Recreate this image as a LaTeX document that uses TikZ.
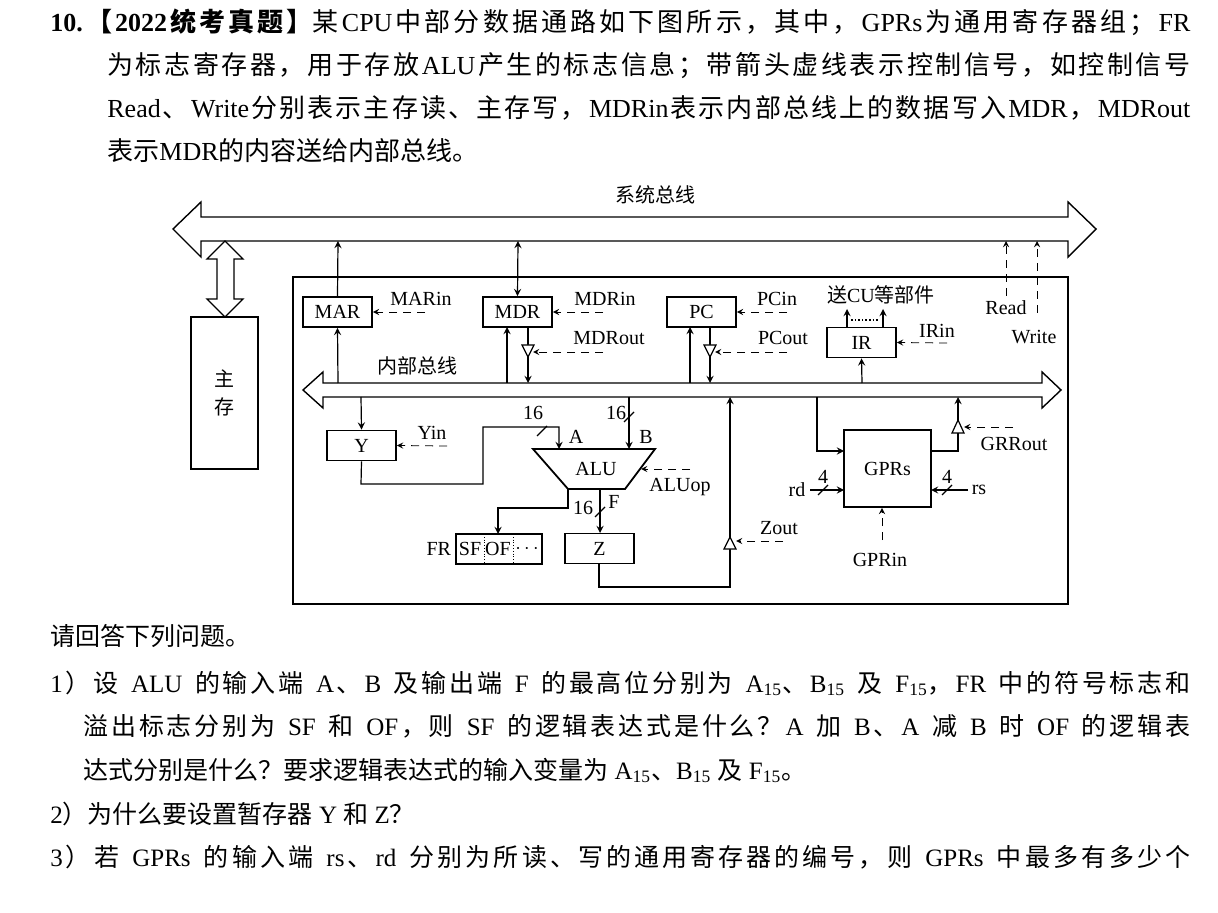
\documentclass[tikz,border=0pt]{standalone}
\usepackage{fontspec}
\setmainfont{Liberation Serif}
\newfontfamily\cjk{Noto Sans CJK SC}
\newcommand\lat{\rmfamily}
\usetikzlibrary{positioning}
% CJK characters switch to the CJK font on their own
\newXeTeXintercharclass\cjkcls
\newcount\cc
\cc="3000 \loop \XeTeXcharclass\cc=\cjkcls \ifnum\cc<"303F \advance\cc 1 \repeat
\cc="4E00 \loop \XeTeXcharclass\cc=\cjkcls \ifnum\cc<"9FFF \advance\cc 1 \repeat
\cc="FF00 \loop \XeTeXcharclass\cc=\cjkcls \ifnum\cc<"FFEF \advance\cc 1 \repeat
\newcommand\cjkglue{\hskip0pt plus 2pt\relax}
\XeTeXinterchartoks 0 \cjkcls = {\cjkglue\cjk}
\XeTeXinterchartoks 4095 \cjkcls = {\cjk}
\XeTeXinterchartoks \cjkcls 0 = {\lat\cjkglue}
\XeTeXinterchartoks \cjkcls 4095 = {\lat}
\XeTeXinterchartoks \cjkcls \cjkcls = {\cjkglue}
\XeTeXinterchartokenstate=1
\newcommand\jline[2]{\hbox to #1{\spaceskip=0.3em plus 0.3em\relax #2}}

\begin{document}
\begin{tikzpicture}[
    x=0.5pt, y=-0.5pt,
    >=stealth,
    reg/.style={
        draw,
        line width=0.9pt,
        minimum width=34.5pt,
        minimum height=15pt,
        inner sep=0pt,
        font=\fontsize{10pt}{11pt}\selectfont
    },
    lbl/.style={
        inner sep=0pt,
        font=\fontsize{10pt}{11pt}\selectfont
    },
    txt/.style={
        anchor=base west,
        inner sep=0pt,
        font=\fontsize{12.5pt}{15pt}\selectfont
    },
    ctrl/.style={
        ->,
        dash pattern=on 4pt off 3pt
    },
    wire/.style={
        line width=0.6pt
    },
    bus/.style={
        draw,
        line width=0.7pt,
        fill=white
    }
]
    \useasboundingbox (0,0) rectangle (1218,913);

    % Question text
    \node[txt, font=\fontsize{13pt}{15pt}\selectfont] (l1) at (50,32) {\jline{570pt}{\textbf{10.【2022统考真题】}某CPU中部分数据通路如下图所示，其中，GPRs为通用寄存器组；FR}};
    \node[txt, font=\fontsize{13pt}{15pt}\selectfont] (l2) at (107,75) {\jline{541.5pt}{为标志寄存器，用于存放ALU产生的标志信息；带箭头虚线表示控制信号，如控制信号}};
    \node[txt, font=\fontsize{13pt}{15pt}\selectfont] (l3) at (107,118) {\jline{541.5pt}{Read、Write分别表示主存读、主存写，MDRin表示内部总线上的数据写入MDR，MDRout}};
    \node[txt, font=\fontsize{13pt}{15pt}\selectfont] (l4) at (107,161) {表示MDR的内容送给内部总线。};

    % System bus
    \path[bus] (201,217) -- (1068,217) -- (1068,202) -- (1096,229) -- (1068,257)
        -- (1068,241) -- (201,241) -- (201,257) -- (173,229) -- (201,202) -- cycle;
    \node[lbl] (sysbus) at (655,195) {系统总线};

    % Main memory
    \node[reg, minimum width=33.5pt, minimum height=76pt, align=center] (mem) at (224.5,393) {主\\[3pt]存};
    \path[bus] (225,241) -- (243,259) -- (234,259) -- (234,299) -- (243,299) -- (225,317)
        -- (207,299) -- (217,299) -- (217,259) -- (207,259) -- cycle;

    % CPU frame
    \draw[line width=0.7pt] (293,277) rectangle (1068,604);

    % Internal bus
    \path[bus] (323,383) -- (1042,383) -- (1042,372) -- (1061,390) -- (1042,408)
        -- (1042,397) -- (323,397) -- (323,408) -- (303,390) -- (323,372) -- cycle;
    \node[lbl] (inbus) at (417,366) {内部总线};

    % Registers
    \node[reg] (mar) at (337.5,312) {MAR};
    \node[reg] (mdr) at (517.5,312) {MDR};
    \node[reg] (pc) at (701.5,312) {PC};
    \node[reg] (ir) at (861.5,342.5) {IR};
    \node[reg] (y) at (361.5,445.5) {Y};
    \node[reg] (z) at (599.5,548.5) {Z};
    \node[reg, minimum width=43.5pt, minimum height=38.5pt] (gprs) at (887.5,468.5) {GPRs};
    \node[draw, line width=0.6pt, minimum width=43pt, minimum height=15pt, inner sep=0pt] (fr) at (499,549) {};
    \draw[densely dotted] (484,534) -- (484,564) (513,534) -- (513,564);
    \node[lbl] at (470,549) {SF};
    \node[lbl] at (498,549) {OF};
    \node[lbl] at (527,549) {$\cdots$};
    \node[lbl, left=2pt of fr] (frl) {FR};

    % Connections to system bus
    \draw[wire, ->] (mar.north) -- (338,241);
    \draw[wire, <->] (mdr.north) -- (518,241);
    \draw[wire, ->] (338,383) -- (mar.south);
    \draw[wire, ->] (507,383) -- (507,327);

    % MDRout buffer
    \draw[wire] (528,327) -- (528,345);
    \draw[wire, fill=white] (522,345) -- (534,345) -- (528,357) -- cycle;
    \draw[wire, ->] (528,357) -- (528,383);

    % PC
    \draw[wire, ->] (690,383) -- (690,327);
    \draw[wire] (710,327) -- (710,345);
    \draw[wire, fill=white] (704,345) -- (716,345) -- (710,357) -- cycle;
    \draw[wire, ->] (710,357) -- (710,383);

    % IR
    \draw[wire, ->] (862,383) -- (ir.south);
    \draw[wire, ->] (847,327) -- (847,309);
    \draw[wire, ->] (883,327) -- (883,309);
    \draw[densely dotted, line width=0.8pt] (851,320) -- (879,320);
    \node[lbl] (tocu) at (881,295) {送CU等部件};

    % Control signals, upper part
    \node[lbl] (marin) at (421,299) {MARin};
    \draw[ctrl] (425,312) -- (mar.east);
    \node[lbl] (mdrin) at (605,299) {MDRin};
    \draw[ctrl] (603,312) -- (mdr.east);
    \node[lbl] (mdrout) at (609,338) {MDRout};
    \draw[ctrl] (603,352) -- (533,352);
    \node[lbl] (pcin) at (777,299) {PCin};
    \draw[ctrl] (787,312) -- (pc.east);
    \node[lbl] (pcout) at (783,338) {PCout};
    \draw[ctrl] (787,352) -- (715,352);
    \node[lbl] (irin) at (937,331) {IRin};
    \draw[ctrl] (947,343) -- (ir.east);
    \node[lbl] (read) at (1006,308) {Read};
    \draw[ctrl] (1006,296) -- (1006,241);
    \node[lbl] (write) at (1034,337) {Write};
    \draw[ctrl] (1037,313) -- (1037,241);

    % Y and ALU
    \draw[wire, ->] (361,397) -- (y.north);
    \node[lbl] (yin) at (432,433) {Yin};
    \draw[ctrl] (447,446) -- (y.east);
    \draw[line width=0.9pt] (533,449) -- (655,449) -- (625,489) -- (568,489) -- cycle;
    \node[lbl] (alu) at (596,469) {ALU};
    \draw[wire, ->] (y.south) -- (361,484) -- (483,484) -- (483,427) -- (559,427) -- (559,449);
    \draw[wire] (537,436) -- (547,426);
    \node[lbl] at (533,413) {16};
    \node[lbl] at (576,437) {A};
    \draw[wire, ->] (629,397) -- (629,449);
    \draw[wire] (624,422) -- (634,412);
    \node[lbl] at (616,413) {16};
    \node[lbl] at (646,437) {B};
    \node[lbl] (aluop) at (680,487) {ALUop};
    \draw[ctrl] (690,469) -- (641,469);

    % ALU outputs
    \draw[wire, ->] (568,489) -- (568,508) -- (498,508) -- (498,534);
    \draw[wire, ->] (600,489) -- (600,533);
    \draw[wire] (595,517) -- (605,507);
    \node[lbl] at (583,508) {16};
    \node[lbl] at (614,502) {F};

    % Z output buffer
    \draw[wire] (599,564) -- (599,587) -- (730,587) -- (730,549);
    \draw[wire, fill=white] (724,549) -- (736,549) -- (730,537) -- cycle;
    \draw[wire, ->] (730,537) -- (730,397);
    \node[lbl] (zout) at (779,528) {Zout};
    \draw[ctrl] (783,541) -- (736,541);

    % GPRs
    \draw[wire, ->] (817,397) -- (817,451) -- (844,451);
    \draw[wire] (931,451) -- (958,451) -- (958,433);
    \draw[wire, fill=white] (952,433) -- (964,433) -- (958,420) -- cycle;
    \draw[wire, ->] (958,420) -- (958,397);
    \node[lbl] (grrout) at (1014,444) {GRRout};
    \draw[ctrl] (1013,427) -- (964,427);
    \node[lbl] (rd) at (797,490) {rd};
    \draw[wire, ->] (810,490) -- (844,490);
    \draw[wire] (818,495) -- (828,485);
    \node[lbl] at (823,477) {4};
    \node[lbl] (rs) at (979,490) {rs};
    \draw[wire, ->] (968,490) -- (931,490);
    \draw[wire] (942,495) -- (952,485);
    \node[lbl] at (947,477) {4};
    \node[lbl] (gprin) at (880,560) {GPRin};
    \draw[ctrl] (882,540) -- (gprs.south -| 882,0);

    % Questions
    \node[txt] (q0) at (50,645) {请回答下列问题。};
    \node[txt] (q1) at (50,692) {\jline{570pt}{1）设 ALU 的输入端 A、B 及输出端 F 的最高位分别为 A\textsubscript{15}、B\textsubscript{15} 及 F\textsubscript{15}，FR 中的符号标志和}};
    \node[txt] (q1b) at (83,735) {\jline{553.5pt}{溢出标志分别为 SF 和 OF，则 SF 的逻辑表达式是什么？A 加 B、A 减 B 时 OF 的逻辑表}};
    \node[txt] (q1c) at (83,779) {达式分别是什么？要求逻辑表达式的输入变量为 A\textsubscript{15}、B\textsubscript{15} 及 F\textsubscript{15}。};
    \node[txt] (q2) at (50,823) {2）为什么要设置暂存器 Y 和 Z？};
    \node[txt] (q3) at (50,866) {\jline{570pt}{3）若 GPRs 的输入端 rs、rd 分别为所读、写的通用寄存器的编号，则 GPRs 中最多有多少个}};
\end{tikzpicture}
\end{document}
